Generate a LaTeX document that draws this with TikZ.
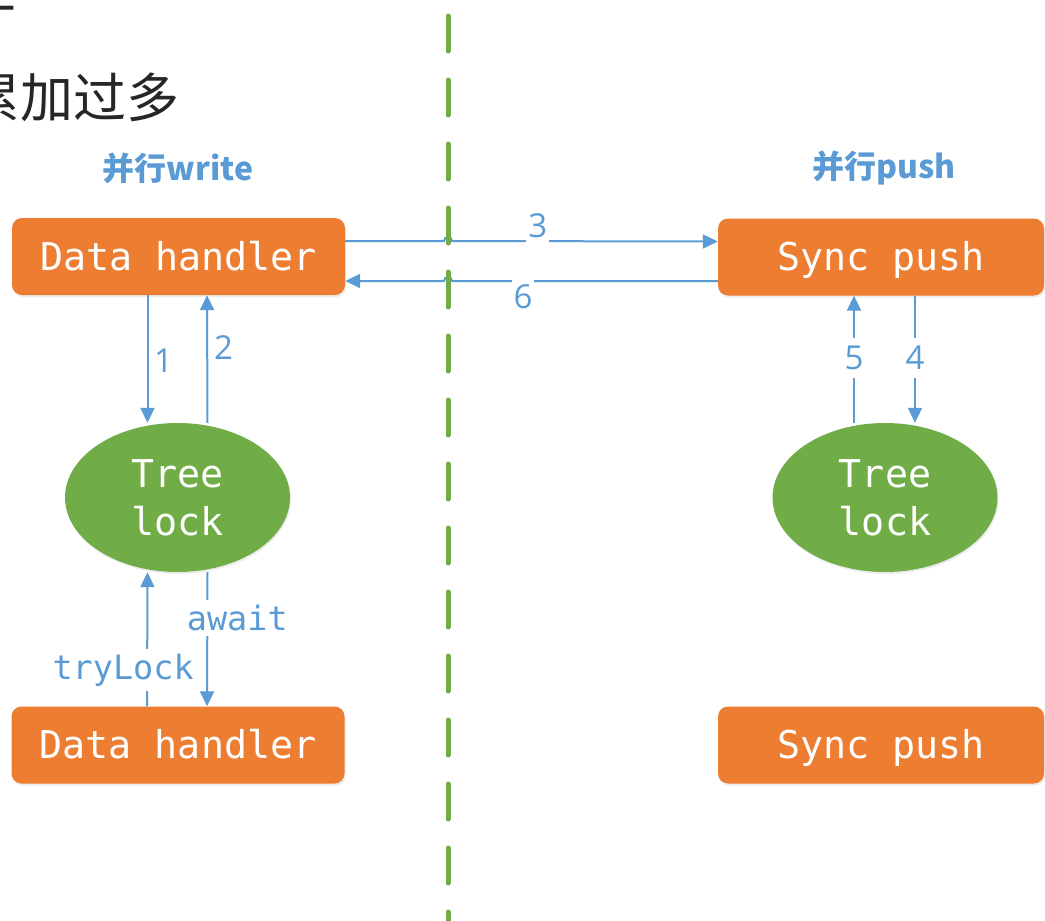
\documentclass[tikz,border=0pt]{standalone}
\usepackage{fontspec}
\setmonofont{DejaVu Sans Mono}
\newfontfamily\cjk{Noto Sans CJK SC}
\newfontfamily\numfont{Open Sans}
\usetikzlibrary{arrows.meta,calc,shapes.geometric,shadows}
\definecolor{boxorange}{HTML}{ED7D31}
\definecolor{lockgreen}{HTML}{70AD47}
\definecolor{flowblue}{HTML}{5B9BD5}

\begin{document}
\begin{tikzpicture}[x=1pt,y=-1pt,
  handler/.style={fill=boxorange,rounded corners=10pt,minimum width=333pt,minimum height=77pt,inner sep=0pt,text=white,font=\ttfamily\fontsize{38.3}{44}\selectfont,text height=27.5pt,text depth=0pt,drop shadow={opacity=0.15,shadow xshift=1pt,shadow yshift=-2pt}},
  lock/.style={ellipse,fill=lockgreen,minimum width=225pt,minimum height=149pt,inner sep=0pt,text=white,align=center,font=\ttfamily\fontsize{38.3}{48}\selectfont,drop shadow={opacity=0.15,shadow xshift=1pt,shadow yshift=-2pt}},
  flow/.style={flowblue,line width=2pt,-{Triangle[length=15pt,width=14pt]}},
  num/.style={text=flowblue,font=\numfont\fontsize{33}{36}\selectfont,inner xsep=2pt,inner ysep=8pt},
  cut/.style={fill=white},
  call/.style={text=flowblue,font=\ttfamily\fontsize{33.5}{36}\selectfont,fill=white,inner xsep=0pt,inner ysep=5pt},
  title/.style={text=flowblue,font=\cjk\bfseries\fontsize{32}{36}\selectfont}]

\useasboundingbox (0,0) rectangle (1045,921);

% text above the diagram, cut off at the left
\node[anchor=base east,inner sep=0pt,text=black!85,font=\cjk\fontsize{53}{60}\selectfont] (prev) at (17,8) {上};
\node[anchor=base west,inner sep=0pt,text=black!85,font=\cjk\fontsize{53}{60}\selectfont] (note) at (-33,117) {累加过多};

\node[title] (ttA) at (178,168) {并行write};
\node[title] (ttB) at (884,168) {并行push};

\node[handler] (dhA) at (178.5,256.5) {Data handler};
\node[handler] (dhB) at (178,745) {Data handler};
\node[handler,minimum width=326pt] (spA) at (881,257) {Sync push};
\node[handler,minimum width=326pt] (spB) at (881,745) {Sync push};

\node[lock] (tlA) at (177.5,497.5) {Tree\\lock};
\node[lock] (tlB) at (885,497.5) {Tree\\lock};

\coordinate (sepT) at (448,16);
\coordinate (sepB) at (448,935);

% write side
\draw[flow] ([xshift=-31pt]dhA.south) -- ([xshift=-30pt]tlA.north) node[num,pos=0.51,anchor=west,xshift=3.5pt] (n1) {1};
\draw[flow] ([xshift=30pt]tlA.north) -- ([xshift=28.5pt]dhA.south) node[num,pos=0.59,anchor=west,xshift=4pt] (n2) {2};
\draw[flow] ([xshift=-31pt]dhB.north) -- ([xshift=-30pt]tlA.south) node[call,pos=0.27,xshift=-24pt] (try) {tryLock};
\draw[flow] ([xshift=30pt]tlA.south) -- ([xshift=29pt]dhB.north) node[call,pos=0.34,xshift=30pt] (aw) {await};

% across the line
\draw[flow] ([yshift=15.5pt]dhA.east) -- ($([yshift=15.5pt]dhA.east -| sepT)+(-4,0)$) arc[start angle=180,end angle=0,radius=4pt] -- ([yshift=15.5pt]spA.west) node[num,cut,pos=0.323,yshift=15pt] (n3) {3};
\draw[flow] ([yshift=-24pt]spA.west) -- ($([yshift=-24pt]spA.west -| sepT)+(4,0)$) node[num,cut,pos=0.733,yshift=-16pt] (n6) {6} arc[start angle=0,end angle=180,radius=4pt] -- ([yshift=-24.5pt]dhA.east);

% push side
\draw[flow] ([xshift=-31pt]tlB.north) -- ([xshift=-31pt]tlB.north |- spA.south) node[num,cut,pos=0.51] (n5) {5};
\draw[flow] ([xshift=30pt]tlB.north |- spA.south) -- ([xshift=30pt]tlB.north) node[num,cut,pos=0.49] (n4) {4};

\draw[lockgreen,line width=5pt,line cap=round,dash pattern=on 35pt off 29pt] (sepT) -- (sepB);

\end{tikzpicture}
\end{document}
